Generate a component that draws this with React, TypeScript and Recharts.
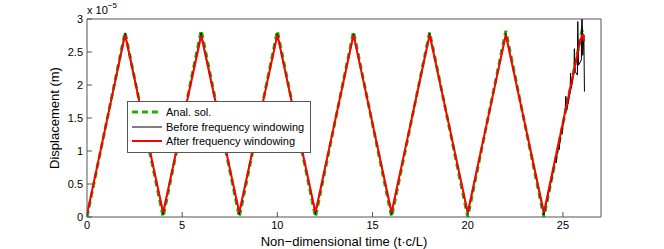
import { LineChart, Line, XAxis, YAxis, Legend, Label } from "recharts";

// Displacement values are in units of 1e-5 m (axis multiplier shown above the plot)
const analT = [0, 2, 4, 6, 8, 10, 12, 14, 16, 18, 20, 22, 24, 26, 26.1];
const analV = [0, 2.8, 0, 2.83, 0, 2.82, 0, 2.81, 0, 2.8, 0, 2.82, 0, 2.82, 2.74];

const beforeT = [
  0, 2, 4, 6, 8, 10, 12, 14, 16, 18, 20, 22, 24, 24.5, 24.6, 24.65, 24.75,
  24.8, 24.9, 24.95, 25.05, 25.12, 25.15, 25.2, 25.38, 25.4, 25.44, 25.58,
  25.6, 25.65, 25.76, 25.78, 25.82, 25.97, 26.0, 26.04, 26.1, 26.13,
];
const beforeV = [
  0.02, 2.79, 0.04, 2.79, 0.04, 2.78, 0.04, 2.78, 0.04, 2.78, 0.04, 2.78,
  0.03, 0.7, 0.9, 0.82, 1.1, 1.02, 1.3, 1.25, 1.5, 1.62, 1.83, 1.62, 1.89,
  2.18, 1.95, 2.2, 2.55, 2.2, 2.15, 2.96, 2.3, 2.38, 3.25, 2.45, 2.76, 1.9,
];

const afterT = [0, 2, 4, 6, 8, 10, 12, 14, 16, 18, 20, 22, 24, 25.92, 26.0, 26.06, 26.12];
const afterV = [
  0.04, 2.76, 0.07, 2.75, 0.07, 2.76, 0.07, 2.76, 0.07, 2.76, 0.07, 2.76,
  0.07, 2.68, 2.75, 2.76, 2.66,
];

const xTicks = [0, 5, 10, 15, 20, 25];
const yTicks = [0, 0.5, 1, 1.5, 2, 2.5, 3];

const legendItems = [
  { name: "Anal. sol.", color: "#22b000", width: 3, dash: "6 4" },
  { name: "Before frequency windowing", color: "#000000", width: 1, dash: undefined },
  { name: "After frequency windowing", color: "#ff0000", width: 2, dash: undefined },
];

const zip = (t: number[], v: number[]) => t.map((x, i) => ({ t: x, v: v[i] }));
const analData = zip(analT, analV);
const beforeData = zip(beforeT, beforeV);
const afterData = zip(afterT, afterV);

const FONT = "'Liberation Sans', Arial, Helvetica, sans-serif";
const AXIS = "#555555";

function LegendBox() {
  return (
    <div
      style={{
        background: "#fff",
        border: `1px solid ${AXIS}`,
        padding: "3px 6px 3px 4px",
        fontFamily: FONT,
        fontSize: 11,
        color: "#000",
        lineHeight: "14.5px",
        textAlign: "left",
      }}
    >
      {legendItems.map((item) => (
        <div key={item.name} style={{ display: "flex", alignItems: "center" }}>
          <svg width={30} height={10} style={{ marginRight: 4 }}>
            <line
              x1={0}
              y1={5}
              x2={30}
              y2={5}
              stroke={item.color}
              strokeWidth={item.width}
              strokeDasharray={item.dash}
            />
          </svg>
          <span>{item.name}</span>
        </div>
      ))}
    </div>
  );
}

export default function App() {
  return (
    <div style={{ position: "absolute", left: 0, top: 0, width: 664, height: 249, background: "#fff" }}>
      <LineChart
        width={664}
        height={249}
        margin={{ top: 18, right: 62, bottom: 0, left: 47 }}
        style={{ fontFamily: FONT }}
      >
        <XAxis
          xAxisId="bottom"
          dataKey="t"
          type="number"
          domain={[0, 27]}
          ticks={xTicks}
          allowDataOverflow
          height={32}
          stroke={AXIS}
          tickSize={-5}
          tickMargin={9}
          tick={{ fontSize: 11, fill: "#000" }}
        >
          <Label
            value="Non−dimensional time (t·c/L)"
            position="insideBottom"
            offset={3}
            style={{ fontSize: 13, fill: "#000" }}
          />
        </XAxis>
        <XAxis
          xAxisId="top"
          orientation="top"
          dataKey="t"
          type="number"
          domain={[0, 27]}
          ticks={xTicks}
          height={1}
          stroke={AXIS}
          tickSize={-5}
          tick={false}
        />
        <YAxis
          yAxisId="left"
          type="number"
          domain={[0, 3]}
          ticks={yTicks}
          allowDataOverflow
          width={40}
          stroke={AXIS}
          tickSize={-5}
          tickMargin={9}
          tick={{ fontSize: 11, fill: "#000" }}
        >
          <Label
            value="Displacement (m)"
            angle={-90}
            position="insideLeft"
            offset={7}
            style={{ fontSize: 13, fill: "#000", textAnchor: "middle" }}
          />
        </YAxis>
        <YAxis
          yAxisId="right"
          orientation="right"
          type="number"
          domain={[0, 3]}
          ticks={yTicks}
          width={1}
          stroke={AXIS}
          tickSize={-5}
          tick={false}
        />
        <Line
          xAxisId="bottom"
          yAxisId="left"
          data={analData}
          dataKey="v"
          type="linear"
          stroke="#22b000"
          strokeWidth={3}
          strokeDasharray="6 4"
          dot={false}
          isAnimationActive={false}
        />
        <Line
          xAxisId="bottom"
          yAxisId="left"
          data={beforeData}
          dataKey="v"
          type="linear"
          stroke="#000000"
          strokeWidth={1}
          dot={false}
          isAnimationActive={false}
        />
        <Line
          xAxisId="bottom"
          yAxisId="left"
          data={afterData}
          dataKey="v"
          type="linear"
          stroke="#ff0000"
          strokeWidth={2}
          dot={false}
          isAnimationActive={false}
        />
        <Legend
          layout="horizontal"
          verticalAlign="middle"
          content={() => <LegendBox />}
          wrapperStyle={{ left: 127, top: 101, width: "auto", bottom: "auto" }}
        />
      </LineChart>
      <div
        style={{
          position: "absolute",
          left: 87,
          top: 2,
          fontFamily: FONT,
          fontSize: 11,
          color: "#000",
        }}
      >
        x 10<sup style={{ fontSize: 8, position: "relative", top: -1 }}>−5</sup>
      </div>
    </div>
  );
}
